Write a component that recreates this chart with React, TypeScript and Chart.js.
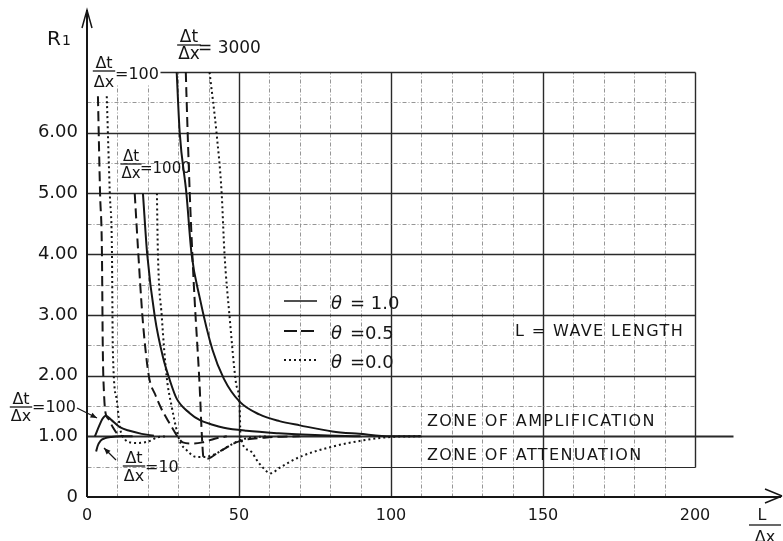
import React, { useEffect, useRef } from "react";
import { Chart, registerables } from "chart.js";

Chart.register(...registerables);

const W = 783;
const H = 541;

// ---- tick labels ----
const xTickLabels: Record<number, string> = { 0: "0", 50: "50", 100: "100", 150: "150", 200: "200" };
const yTickLabels = ["0", "1.00", "2.00", "3.00", "4.00", "5.00", "6.00"];

// ---- series (x = L/Δx, y = R1) ----
// Δt/Δx = 10, θ = 1.0
const r10SolidX = [3, 3.5, 4.5, 6, 8, 11, 15];
const r10SolidY = [0.75, 0.84, 0.93, 0.97, 0.99, 1.0, 1.0];
// Δt/Δx = 100, θ = 1.0 (bump)
const r100SolidX = [2.6, 4, 5, 6.2, 8, 10.8, 14, 18, 22];
const r100SolidY = [1.0, 1.17, 1.28, 1.34, 1.27, 1.15, 1.09, 1.04, 1.01];
// Δt/Δx = 100, θ = 0.5
const r100DashX = [3.6, 4.3, 4.9, 5.2, 5.6, 6.2, 7, 8.5, 10.2, 12];
const r100DashY = [6.6, 5.0, 4.07, 2.42, 1.7, 1.36, 1.29, 1.15, 1.03, 1.0];
// Δt/Δx = 100, θ = 0.0
const r100DotX = [6.5, 7.5, 8.2, 8.5, 9.8, 10.8, 12.5, 14, 17, 20.5, 23, 26];
const r100DotY = [6.6, 5.0, 4.07, 2.42, 1.6, 1.15, 0.95, 0.9, 0.89, 0.92, 0.98, 1.0];
// Δt/Δx = 1000, θ = 1.0
const r1000SolidX = [18.4, 19.8, 22.3, 25, 27.2, 29.5, 33.8, 37, 41.3, 45, 52.5, 63, 75, 90];
const r1000SolidY = [5.0, 4.0, 2.97, 2.3, 1.93, 1.62, 1.38, 1.27, 1.19, 1.14, 1.09, 1.05, 1.02, 1.0];
// Δt/Δx = 1000, θ = 0.5
const r1000DashX = [15.7, 16.8, 18.2, 19.3, 20.5, 22.5, 24.5, 26.5, 28.5, 30, 31.5, 35, 38, 42, 46];
const r1000DashY = [5.0, 4.07, 3.0, 2.4, 1.95, 1.68, 1.45, 1.27, 1.1, 0.98, 0.9, 0.88, 0.9, 0.96, 1.0];
// Δt/Δx = 1000, θ = 0.0
const r1000DotX = [23, 23.3, 24.6, 26.2, 27.9, 29.5, 30.5, 32.8, 36, 38.9, 42.6, 46, 50, 54, 60];
const r1000DotY = [5.0, 4.07, 2.97, 1.98, 1.48, 1.1, 0.92, 0.77, 0.66, 0.66, 0.72, 0.82, 0.93, 0.98, 1.0];
// Δt/Δx = 3000, θ = 1.0
const r3000SolidX = [29.5, 30.5, 32.7, 34.4, 37, 41.3, 45, 50.2, 56.7, 63.3, 70, 80.7, 89.5, 100, 110];
const r3000SolidY = [7.0, 6.0, 5.0, 4.0, 3.3, 2.42, 1.95, 1.57, 1.36, 1.25, 1.18, 1.08, 1.04, 1.0, 1.0];
// Δt/Δx = 3000, θ = 0.5
const r3000DashX = [32.5, 32.7, 33.8, 34.7, 35.4, 37, 37.8, 38.3, 39.5, 43.6, 50.2, 59, 70];
const r3000DashY = [7.0, 6.65, 5.0, 3.95, 3.25, 1.88, 1.0, 0.66, 0.63, 0.75, 0.92, 0.98, 1.0];
// Δt/Δx = 3000, θ = 0.0
const r3000DotX = [40.3, 42.6, 44.3, 45.2, 46.9, 49, 50.2, 50.5, 53.4, 56.7, 60.5, 63.3, 70, 80.7, 91.8, 100.3, 110];
const r3000DotY = [7.0, 6.0, 5.0, 4.03, 2.97, 1.88, 1.5, 1.0, 0.77, 0.55, 0.39, 0.48, 0.66, 0.83, 0.94, 0.99, 1.0];

const INK = "#161616";
const FONT = '"DejaVu Sans", sans-serif';

const pts = (xs: number[], ys: number[]) => xs.map((x, i) => ({ x, y: ys[i] }));

type Style = "solid" | "dash" | "dot";
const ds = (label: string, xs: number[], ys: number[], style: Style) => ({
  label,
  data: pts(xs, ys),
  borderColor: INK,
  backgroundColor: INK,
  borderWidth: 2,
  borderDash: style === "dash" ? [10, 5] : style === "dot" ? [2, 3] : [],
  pointRadius: 0,
  fill: false,
  cubicInterpolationMode: "monotone" as const,
});

function drawFrac(
  ctx: CanvasRenderingContext2D,
  cx: number,
  numBase: number,
  barY: number,
  denBase: number,
  rest: string,
  restX: number,
  restBase: number,
  size: number
) {
  ctx.font = `${size}px ${FONT}`;
  ctx.textAlign = "center";
  ctx.textBaseline = "alphabetic";
  ctx.fillText("Δt", cx, numBase);
  ctx.fillText("Δx", cx, denBase);
  const w = ctx.measureText("Δx").width;
  ctx.beginPath();
  ctx.lineWidth = 1.3;
  ctx.moveTo(cx - w / 2 - 1, barY);
  ctx.lineTo(cx + w / 2 + 1, barY);
  ctx.stroke();
  ctx.textAlign = "left";
  ctx.fillText(rest, restX, restBase);
}

function arrow(ctx: CanvasRenderingContext2D, x0: number, y0: number, x1: number, y1: number) {
  ctx.beginPath();
  ctx.lineWidth = 1.2;
  ctx.moveTo(x0, y0);
  ctx.lineTo(x1, y1);
  ctx.stroke();
  const a = Math.atan2(y1 - y0, x1 - x0);
  const L = 7;
  ctx.beginPath();
  ctx.moveTo(x1, y1);
  ctx.lineTo(x1 - L * Math.cos(a - 0.4), y1 - L * Math.sin(a - 0.4));
  ctx.lineTo(x1 - L * Math.cos(a + 0.4), y1 - L * Math.sin(a + 0.4));
  ctx.closePath();
  ctx.fill();
}

const decor = {
  id: "decor",
  beforeDatasetsDraw(chart: any) {
    const { ctx } = chart;
    const xs = chart.scales.x;
    const ys = chart.scales.y;
    const px = (v: number) => xs.getPixelForValue(v);
    const py = (v: number) => ys.getPixelForValue(v);
    ctx.save();
    const seg = (x0: number, y0: number, x1: number, y1: number, major: boolean, w?: number) => {
      ctx.beginPath();
      ctx.lineWidth = w ?? (major ? 1.4 : 0.9);
      ctx.strokeStyle = major ? "#2a2a2a" : "#8a8a8a";
      ctx.setLineDash(major ? [] : [4, 2, 1, 2]);
      ctx.moveTo(Math.round(x0) + 0.5, Math.round(y0) + 0.5);
      ctx.lineTo(Math.round(x1) + 0.5, Math.round(y1) + 0.5);
      ctx.stroke();
    };
    // vertical grid
    for (let v = 10; v <= 200; v += 10) {
      const major = v % 50 === 0;
      const y0 = v === 200 ? 0.5 : 0;
      const y1 = v <= 20 ? 6.8 : 7;
      seg(px(v), py(y0), px(v), py(y1), major);
    }
    // horizontal grid
    for (let k = 1; k <= 14; k++) {
      const v = k / 2;
      const major = k % 2 === 0;
      if (v === 1) continue;
      const x0 = v === 7 ? 24 : 0;
      seg(px(x0), py(v), px(200), py(v), major);
    }
    // attenuation box bottom
    seg(px(90), py(0.5), px(200), py(0.5), true, 1.1);
    // R1 = 1 line (extends past grid)
    seg(px(0), py(1), px(212.5), py(1), true, 2);
    ctx.restore();
  },
  afterDraw(chart: any) {
    const { ctx } = chart;
    const xs = chart.scales.x;
    const ys = chart.scales.y;
    const px = (v: number) => xs.getPixelForValue(v);
    const py = (v: number) => ys.getPixelForValue(v);
    ctx.save();
    ctx.strokeStyle = INK;
    ctx.fillStyle = INK;
    ctx.setLineDash([]);
    // axes
    const ox = px(0);
    const oy = py(0);
    ctx.lineWidth = 2;
    ctx.beginPath();
    ctx.moveTo(ox, oy);
    ctx.lineTo(ox, 10);
    ctx.moveTo(ox, oy);
    ctx.lineTo(781, oy);
    ctx.stroke();
    ctx.lineWidth = 1.5;
    ctx.beginPath();
    ctx.moveTo(ox - 5, 28);
    ctx.lineTo(ox, 10);
    ctx.lineTo(ox + 5, 28);
    ctx.moveTo(765, oy - 8);
    ctx.lineTo(782, oy - 1);
    ctx.moveTo(765, oy + 6);
    ctx.lineTo(782, oy - 1);
    ctx.stroke();

    // axis titles
    ctx.textBaseline = "alphabetic";
    ctx.textAlign = "left";
    ctx.font = `20px ${FONT}`;
    ctx.fillText("R", 47, 45);
    ctx.font = `14px ${FONT}`;
    ctx.fillText("1", 62, 45);

    ctx.font = `16px ${FONT}`;
    ctx.textAlign = "center";
    ctx.fillText("L", 762, 520);
    ctx.beginPath();
    ctx.lineWidth = 1.3;
    ctx.moveTo(749, 525);
    ctx.lineTo(781, 525);
    ctx.stroke();
    ctx.fillText("Δx", 765, 542);

    // curve labels
    drawFrac(ctx, 104, 68, 71, 87, "=100", 115, 79, 16);
    drawFrac(ctx, 189, 42, 45, 59, "= 3000", 198, 53, 17);
    drawFrac(ctx, 131, 161, 164, 178, "=1000", 140, 173, 15);
    drawFrac(ctx, 21, 404, 407, 421, "=100", 32, 412, 16);
    drawFrac(ctx, 134, 463, 466, 481, "=10", 145, 472, 16);

    arrow(ctx, 77, 408, 97, 418);
    arrow(ctx, 116, 460, 104, 448);

    // legend
    const legend: [Style, string, number][] = [
      ["solid", "= 1.0", 301],
      ["dash", "=0.5", 331],
      ["dot", "=0.0", 360],
    ];
    for (const [st, txt, y] of legend) {
      ctx.beginPath();
      ctx.lineWidth = st === "solid" ? 1.5 : 2;
      ctx.setLineDash(st === "dash" ? [13, 4] : st === "dot" ? [2, 3] : []);
      ctx.moveTo(284, y);
      ctx.lineTo(317, y);
      ctx.stroke();
      ctx.setLineDash([]);
      ctx.textAlign = "left";
      ctx.font = `italic 18px ${FONT}`;
      ctx.fillText("θ", 331, y + 8);
      ctx.font = `18px ${FONT}`;
      ctx.fillText(txt, 350, y + 8);
    }

    // notes
    ctx.font = `16px ${FONT}`;
    ctx.textAlign = "left";
    (ctx as any).letterSpacing = "1.4px";
    ctx.fillText("L = WAVE LENGTH", 515, 336);
    ctx.fillText("ZONE OF AMPLIFICATION", 427, 426);
    ctx.fillText("ZONE OF ATTENUATION", 427, 460);
    (ctx as any).letterSpacing = "0px";
    ctx.restore();
  },
};

export default function App() {
  const ref = useRef<HTMLCanvasElement | null>(null);
  useEffect(() => {
    if (!ref.current) return;
    const chart = new Chart(ref.current, {
      type: "line",
      data: {
        datasets: [
          ds("Δt/Δx=10, θ=1.0", r10SolidX, r10SolidY, "solid"),
          ds("Δt/Δx=100, θ=1.0", r100SolidX, r100SolidY, "solid"),
          ds("Δt/Δx=100, θ=0.5", r100DashX, r100DashY, "dash"),
          ds("Δt/Δx=100, θ=0.0", r100DotX, r100DotY, "dot"),
          ds("Δt/Δx=1000, θ=1.0", r1000SolidX, r1000SolidY, "solid"),
          ds("Δt/Δx=1000, θ=0.5", r1000DashX, r1000DashY, "dash"),
          ds("Δt/Δx=1000, θ=0.0", r1000DotX, r1000DotY, "dot"),
          ds("Δt/Δx=3000, θ=1.0", r3000SolidX, r3000SolidY, "solid"),
          ds("Δt/Δx=3000, θ=0.5", r3000DashX, r3000DashY, "dash"),
          ds("Δt/Δx=3000, θ=0.0", r3000DotX, r3000DotY, "dot"),
        ] as any,
      },
      options: {
        responsive: false,
        animation: false,
        devicePixelRatio: 1,
        layout: { padding: { left: 0, right: 88, top: 72, bottom: 0 } },
        plugins: { legend: { display: false }, tooltip: { enabled: false } },
        scales: {
          x: {
            type: "linear",
            min: 0,
            max: 200,
            afterFit: (s: any) => {
              s.height = 44;
            },
            grid: { display: false, drawTicks: false },
            border: { display: false },
            ticks: {
              stepSize: 50,
              padding: 9,
              autoSkip: false,
              maxRotation: 0,
              color: INK,
              font: { family: FONT, size: 16 },
              callback: (v: any) => xTickLabels[Number(v)] ?? "",
            },
          },
          y: {
            type: "linear",
            min: 0,
            max: 7,
            afterFit: (s: any) => {
              s.width = 87;
            },
            grid: { display: false, drawTicks: false },
            border: { display: false },
            ticks: {
              stepSize: 1,
              padding: 9,
              autoSkip: false,
              color: INK,
              font: { family: FONT, size: 18 },
              callback: (v: any) => yTickLabels[Number(v)] ?? "",
            },
          },
        },
      } as any,
      plugins: [decor],
    });
    return () => chart.destroy();
  }, []);
  return (
    <div style={{ position: "fixed", left: 0, top: 0, width: W, height: H, background: "#fff" }}>
      <canvas ref={ref} width={W} height={H} style={{ display: "block" }} />
    </div>
  );
}
